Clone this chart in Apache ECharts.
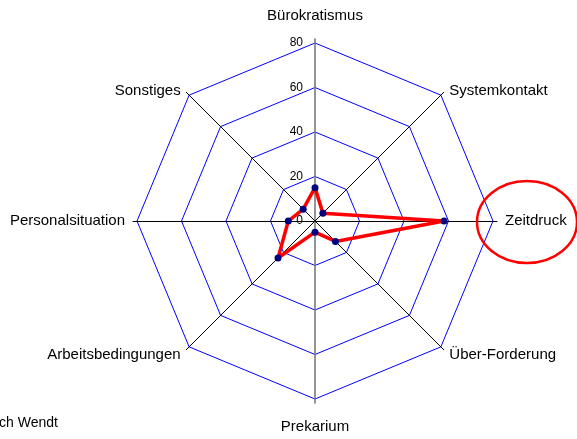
<!DOCTYPE html>
<html>
<head>
<meta charset="utf-8">
<script src="https://cdn.jsdelivr.net/npm/echarts@6/dist/echarts.min.js"></script>
<style>
  html, body { margin: 0; padding: 0; background: #fff; }
  #chart { width: 577px; height: 439px; }
</style>
</head>
<body>
<div id="chart"></div>
<script>
// Achsen gegen den Uhrzeigersinn ab oben (so legt ECharts den Radar an)
const categories = ['Bürokratismus', 'Sonstiges', 'Personalsituation', 'Arbeitsbedingungen',
  'Prekarium', 'Über-Forderung', 'Zeitdruck', 'Systemkontakt'];
const values = [15, 7.5, 12, 23.5, 5, 13, 58, 5];
const axisMax = 80;
const tickLabels = ['0', '20', '40', '60', '80'];
const sourceNote = 'ch Wendt';

const chart = echarts.init(document.getElementById('chart'), null, { renderer: 'canvas' });

const fontFamily = '"Liberation Sans", Arial, sans-serif';
const cx = 315, cy = 221;

// Namen je Richtung etwas verschieben
function nameKey(name) {
  if (name === 'Bürokratismus') return 'top';
  if (name === 'Prekarium') return 'bot';
  if (name === 'Systemkontakt' || name === 'Sonstiges') return 'up';
  return 'n';
}

const option = {
  backgroundColor: '#fff',
  animation: false,
  radar: [
    {
      center: [cx, cy],
      radius: 178,
      startAngle: 90,
      splitNumber: 4,
      shape: 'polygon',
      indicator: categories.map((name, i) => {
        const ind = { name: name, min: 0, max: axisMax };
        if (i === 0) {
          ind.axisLabel = {
            show: true,
            color: '#000',
            fontSize: 12,
            fontFamily: fontFamily,
            margin: 12,
            formatter: (v) => tickLabels.indexOf(String(v)) >= 0 ? String(v) : ''
          };
        }
        return ind;
      }),
      axisName: {
        color: '#000',
        fontSize: 15,
        fontFamily: fontFamily,
        formatter: (name) => '{' + nameKey(name) + '|' + name + '}',
        rich: {
          top: { fontSize: 15, fontFamily: fontFamily, color: '#000', padding: [0, 0, 8, 0] },
          bot: { fontSize: 15, fontFamily: fontFamily, color: '#000', padding: [8, 0, 0, 0] },
          up: { fontSize: 15, fontFamily: fontFamily, color: '#000', padding: [8, 0, 0, 0] },
          n: { fontSize: 15, fontFamily: fontFamily, color: '#000' }
        }
      },
      nameGap: 12,
      axisLine: { show: false },
      axisTick: { show: false },
      axisLabel: { show: false },
      splitArea: { show: false },
      splitLine: { lineStyle: { color: '#0000ff', width: 1 } }
    },
    {
      // nur die Speichen, etwas länger als der äußere Ring
      center: [cx, cy],
      radius: 182,
      startAngle: 90,
      shape: 'polygon',
      indicator: categories.map((name, i) => {
        const ind = { name: '', min: 0, max: axisMax };
        // senkrechte Achse grau
        if (i === 0 || i === 4) {
          ind.axisLine = { lineStyle: { color: '#7a7a7a', width: 1.6 } };
        }
        return ind;
      }),
      axisName: { show: false },
      axisLine: {
        lineStyle: { color: '#000', width: 1 }
      },
      axisTick: { show: false },
      axisLabel: { show: false },
      splitArea: { show: false },
      splitLine: { show: false }
    }
  ],
  series: [{
    type: 'radar',
    radarIndex: 0,
    symbol: 'circle',
    symbolSize: 7,
    z: 5,
    lineStyle: { color: '#ff0000', width: 3.5 },
    itemStyle: { color: '#000080' },
    data: [{ value: values, name: 'Belastung' }]
  }],
  graphic: [
    {
      type: 'ellipse',
      shape: { cx: 527, cy: 222, rx: 50, ry: 41 },
      style: { fill: null, stroke: '#ff0000', lineWidth: 2.5 },
      z: 10
    },
    {
      type: 'text',
      left: -1,
      top: 416,
      style: { text: sourceNote, fill: '#000', font: '14px ' + fontFamily }
    }
  ]
};

chart.setOption(option);
</script>
</body>
</html>
